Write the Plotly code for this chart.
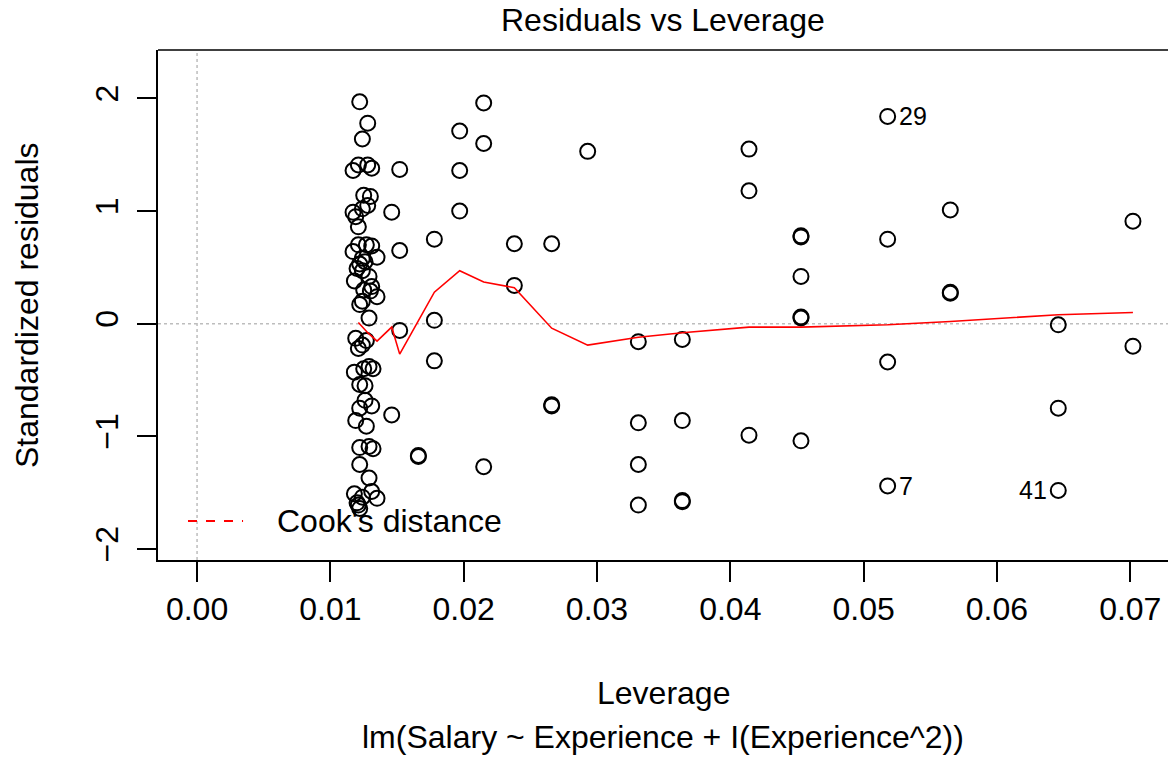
import plotly.graph_objects as go

# Leverage (hat values) and standardized residuals of the fitted model
leverage = [
    0.0122, 0.0128, 0.0124, 0.0117, 0.0121, 0.0128, 0.0131, 0.0125, 0.0130, 0.0128,
    0.0124, 0.0117, 0.0119, 0.0121, 0.0121, 0.0131, 0.0127, 0.0117, 0.0135, 0.0124,
    0.0126, 0.0122, 0.0120, 0.0124, 0.0129, 0.0118, 0.0131, 0.0130, 0.0125, 0.0135,
    0.0124, 0.0122, 0.0129, 0.0119, 0.0124, 0.0121, 0.0127, 0.0129, 0.0125, 0.0132,
    0.0118, 0.0126, 0.0122, 0.0131, 0.0122, 0.0126, 0.0119, 0.0127, 0.0129, 0.0122,
    0.0132, 0.0122, 0.0129, 0.0118, 0.0131, 0.0124, 0.0135, 0.0121, 0.0122, 0.0120,
    0.0146, 0.0146, 0.0152, 0.0152, 0.0152,
    0.0166, 0.0166,
    0.0178, 0.0178, 0.0178,
    0.0197, 0.0197, 0.0197,
    0.0215, 0.0215, 0.0215,
    0.0238, 0.0238,
    0.0266, 0.0266, 0.0266,
    0.0293,
    0.0331, 0.0331, 0.0331, 0.0331,
    0.0364, 0.0364, 0.0364, 0.0364,
    0.0414, 0.0414, 0.0414,
    0.0453, 0.0453, 0.0453, 0.0453, 0.0453, 0.0453,
    0.0518, 0.0518, 0.0518, 0.0518,
    0.0565, 0.0565, 0.0565,
    0.0646, 0.0646, 0.0646,
    0.0702, 0.0702,
]
std_resid = [
    1.97, 1.78, 1.64, 1.36, 1.41, 1.41, 1.38, 1.14, 1.13, 1.05,
    1.02, 0.99, 0.95, 0.86, 0.70, 0.69, 0.70, 0.64, 0.59, 0.58,
    0.55, 0.53, 0.49, 0.47, 0.42, 0.38, 0.33, 0.29, 0.30, 0.24,
    0.20, 0.17, 0.05, -0.13, -0.19, -0.22, -0.15, -0.38, -0.40, -0.40,
    -0.43, -0.55, -0.54, -0.73, -0.75, -0.68, -0.86, -0.91, -1.09, -1.10,
    -1.11, -1.25, -1.37, -1.51, -1.49, -1.54, -1.55, -1.61, -1.64, -1.59,
    0.99, -0.81, 1.37, 0.65, -0.06,
    -1.18, -1.17,
    0.75, 0.03, -0.33,
    1.71, 1.36, 1.00,
    1.96, 1.60, -1.27,
    0.71, 0.34,
    0.71, -0.73, -0.72,
    1.53,
    -0.16, -0.88, -1.25, -1.61,
    -0.14, -0.86, -1.58, -1.57,
    1.55, 1.18, -0.99,
    0.78, 0.77, 0.42, 0.06, 0.05, -1.04,
    1.84, 0.75, -0.34, -1.44,
    1.01, 0.28, 0.27,
    -0.01, -0.75, -1.48,
    0.91, -0.20,
]

# Lowess smooth of residuals against leverage
smooth_lev = [0.0121, 0.0128, 0.0135, 0.0146, 0.0152, 0.0166, 0.0178, 0.0197, 0.0215,
              0.0238, 0.0266, 0.0293, 0.0331, 0.0364, 0.0414, 0.0453, 0.0518, 0.0565,
              0.0646, 0.0702]
smooth_res = [0.01, -0.08, -0.155, -0.03, -0.27, 0.02, 0.28, 0.47, 0.37,
              0.32, -0.04, -0.19, -0.12, -0.08, -0.03, -0.03, -0.01, 0.02,
              0.08, 0.10]

# Observations flagged by case number: (index into arrays, label, side)
flagged = [(99, "29", "right"), (102, "7", "right"), (108, "41", "left")]

x_ticks = [0.00, 0.01, 0.02, 0.03, 0.04, 0.05, 0.06, 0.07]
y_ticks = [-2, -1, 0, 1, 2]

FONT = "Liberation Sans, Arial, Helvetica, sans-serif"
FS = 32

fig = go.Figure()

fig.add_trace(go.Scatter(
    x=leverage, y=std_resid, mode="markers",
    marker=dict(symbol="circle-open", size=15, color="black", line=dict(width=2)),
    showlegend=False, hoverinfo="x+y",
))

fig.add_trace(go.Scatter(
    x=smooth_lev, y=smooth_res, mode="lines",
    line=dict(color="red", width=1.6), showlegend=False,
))

# Reference lines at zero
fig.add_shape(type="line", xref="x", yref="paper", x0=0, x1=0, y0=0, y1=1,
              line=dict(color="#bdbdbd", width=1.5, dash="dot"), layer="below")
fig.add_shape(type="line", xref="paper", yref="y", x0=0, x1=1, y0=0, y1=0,
              line=dict(color="#bdbdbd", width=1.5, dash="dot"), layer="below")

# Top border of plot box
fig.add_shape(type="line", xref="paper", yref="paper", x0=0, x1=1, y0=1, y1=1,
              line=dict(color="black", width=1.5))

for idx, text, side in flagged:
    fig.add_annotation(
        x=leverage[idx], y=std_resid[idx], text=text, showarrow=False,
        xanchor="left" if side == "right" else "right",
        xshift=9 if side == "right" else -9, yshift=0,
        font=dict(family=FONT, size=25, color="black"),
    )

# Legend for Cook's distance contours
fig.add_shape(type="line", xref="paper", yref="paper", x0=0.0297, x1=0.0842,
              y0=0.0765, y1=0.0765, line=dict(color="red", width=1.8, dash="dash"))
fig.add_annotation(xref="paper", yref="paper", x=0.1158, y=0.0765, text="Cook's distance",
                   showarrow=False, xanchor="left", yanchor="middle",
                   font=dict(family=FONT, size=FS, color="black"))

# Titles
fig.add_annotation(xref="paper", yref="paper", x=0.5, y=1, yshift=30, text="Residuals vs Leverage",
                   showarrow=False, yanchor="middle", font=dict(family=FONT, size=FS, color="black"))
fig.add_annotation(xref="paper", yref="paper", x=0.5, y=-0.2608, text="Leverage",
                   showarrow=False, yanchor="middle", font=dict(family=FONT, size=FS, color="black"))
fig.add_annotation(xref="paper", yref="paper", x=0.5, y=-0.347,
                   text="lm(Salary ~ Experience + I(Experience^2))",
                   showarrow=False, yanchor="middle", font=dict(family=FONT, size=FS, color="black"))
fig.add_annotation(xref="paper", yref="paper", x=-0.1297, y=0.5, text="Standardized residuals",
                   showarrow=False, textangle=-90, xanchor="center", yanchor="middle",
                   font=dict(family=FONT, size=FS, color="black"))

fig.update_layout(
    width=1168, height=757,
    margin=dict(l=158, r=0, t=50, b=197),
    paper_bgcolor="white", plot_bgcolor="white",
    font=dict(family=FONT, size=FS, color="black"),
    showlegend=False,
    xaxis=dict(
        range=[-0.00293, 0.07283], tickvals=x_ticks,
        ticktext=[f"{v:.2f}" for v in x_ticks],
        ticks="outside", ticklen=20, tickwidth=1.5, tickcolor="black",
        showline=True, linecolor="black", linewidth=1.5,
        showgrid=False, zeroline=False,
    ),
    yaxis=dict(
        range=[-2.098, 2.430], tickvals=y_ticks,
        ticktext=[str(v).replace("-", "\u2212") for v in y_ticks],
        tickangle=-90, ticklabelstandoff=6,
        ticks="outside", ticklen=19, tickwidth=1.5, tickcolor="black",
        showline=True, linecolor="black", linewidth=1.5,
        showgrid=False, zeroline=False,
    ),
)

fig.write_html("out.html")
